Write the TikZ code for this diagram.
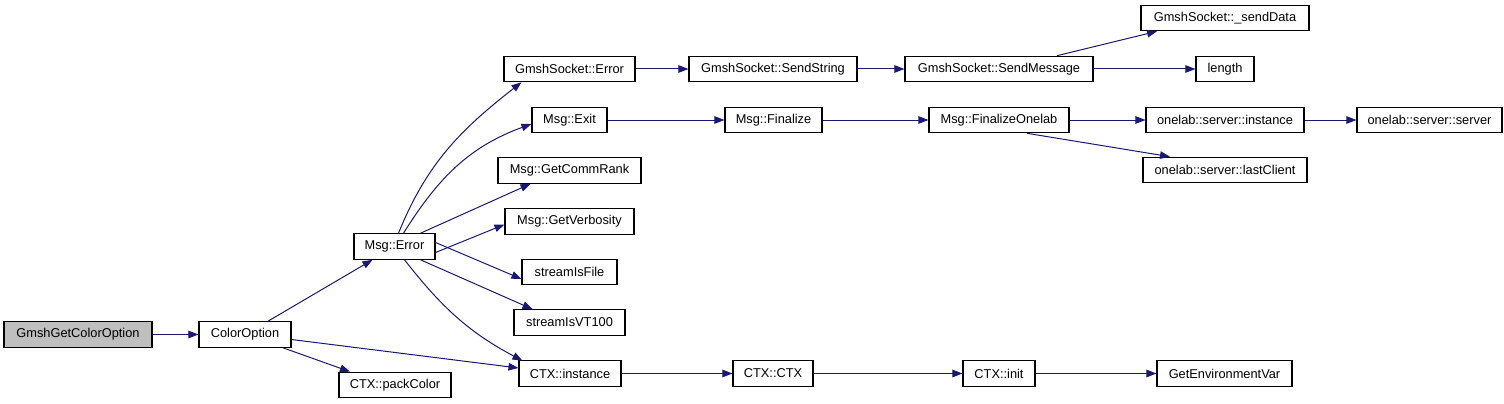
\documentclass[tikz,border=0pt]{standalone}
\usepackage{fontspec}
\setmainfont{Liberation Sans}
\usetikzlibrary{arrows.meta}
\definecolor{edgeblue}{HTML}{191970}
\definecolor{rootgray}{HTML}{BFBFBF}
\begin{document}
\begin{tikzpicture}[x=1pt,y=-1pt,
  fbox/.style={draw=black,line width=1.1pt,rectangle,inner sep=0pt,minimum height=25.5pt,
    font=\fontsize{12.8}{15}\selectfont,text=black,fill=white},
  edge/.style={draw=edgeblue,line width=1pt,-{Triangle[length=10pt,width=7.5pt]}}]
\useasboundingbox (0,0) rectangle (1504,404);
% nodes
\node[fbox,fill=rootgray,minimum width=148pt] (gco) at (78,334.5) {GmshGetColorOption};
\node[fbox,minimum width=92pt] (co) at (245,334.5) {ColorOption};
\node[fbox,minimum width=81pt] (err) at (394.5,246.5) {Msg::Error};
\node[fbox,minimum width=112pt] (pack) at (395,385) {CTX::packColor};
\node[fbox,minimum width=131pt] (gse) at (569.5,69) {GmshSocket::Error};
\node[fbox,minimum width=75pt] (exit) at (569.5,120) {Msg::Exit};
\node[fbox,minimum width=143pt] (rank) at (569.5,170.5) {Msg::GetCommRank};
\node[fbox,minimum width=129pt] (verb) at (569.5,221.5) {Msg::GetVerbosity};
\node[fbox,minimum width=95pt] (file) at (569.5,272) {streamIsFile};
\node[fbox,minimum width=111pt] (vt) at (569.5,322.5) {streamIsVT100};
\node[fbox,minimum width=102pt] (inst) at (570,373.5) {CTX::instance};
\node[fbox,minimum width=168pt] (sstr) at (773,69) {GmshSocket::SendString};
\node[fbox,minimum width=97pt] (fin) at (773.5,120) {Msg::Finalize};
\node[fbox,minimum width=80pt] (ctx) at (773,373.5) {CTX::CTX};
\node[fbox,minimum width=188pt] (smsg) at (999,69) {GmshSocket::SendMessage};
\node[fbox,minimum width=140pt] (fonelab) at (999,120) {Msg::FinalizeOnelab};
\node[fbox,minimum width=72pt] (init) at (999,373.5) {CTX::init};
\node[fbox,minimum width=168pt] (send) at (1225,18) {GmshSocket::\_sendData};
\node[fbox,minimum width=58pt] (len) at (1225,69) {length};
\node[fbox,minimum width=158pt] (osi) at (1225,120) {onelab::server::instance};
\node[fbox,minimum width=164pt] (olc) at (1225,170) {onelab::server::lastClient};
\node[fbox,minimum width=145pt] (oss) at (1429.5,120) {onelab::server::server};
\node[fbox,minimum width=135pt] (env) at (1224.5,373.5) {GetEnvironmentVar};
% edges
\draw[edge] (gco) -- (co);
\draw[edge] ([xshift=23pt]co.north) -- ([xshift=-22pt]err.south);
\draw[edge] ([yshift=-5pt]co.east) -- ([yshift=5.5pt]inst.west);
\draw[edge] ([xshift=38pt]co.south) -- ([xshift=-45pt]pack.north);
\draw[edge] ([xshift=4pt]err.north) to[out=68,in=218] ([xshift=18pt]gse.south west);
\draw[edge] ([xshift=9pt]err.north) to[out=58,in=200] ([yshift=-4pt]exit.west);
\draw[edge] ([xshift=26pt]err.north) -- ([xshift=-39pt]rank.south);
\draw[edge] ([yshift=-6pt]err.east) -- ([yshift=-3pt]verb.west);
\draw[edge] ([yshift=4pt]err.east) -- ([yshift=-7pt]file.west);
\draw[edge] ([xshift=26pt]err.south) -- ([xshift=-37pt]vt.north);
\draw[edge] ([xshift=10pt]err.south) to[out=-52,in=152] ([xshift=4pt,yshift=-0.5pt]inst.north west);
\draw[edge] (gse) -- (sstr);
\draw[edge] (sstr) -- (smsg);
\draw[edge] ([xshift=58pt]smsg.north) -- ([xshift=-68pt]send.south);
\draw[edge] (smsg) -- (len);
\draw[edge] (exit) -- (fin);
\draw[edge] (fin) -- (fonelab);
\draw[edge] (fonelab) -- (osi);
\draw[edge] ([xshift=28pt]fonelab.south) -- ([xshift=-55pt]olc.north);
\draw[edge] (osi) -- (oss);
\draw[edge] (inst) -- (ctx);
\draw[edge] (ctx) -- (init);
\draw[edge] (init) -- (env);
\end{tikzpicture}
\end{document}
